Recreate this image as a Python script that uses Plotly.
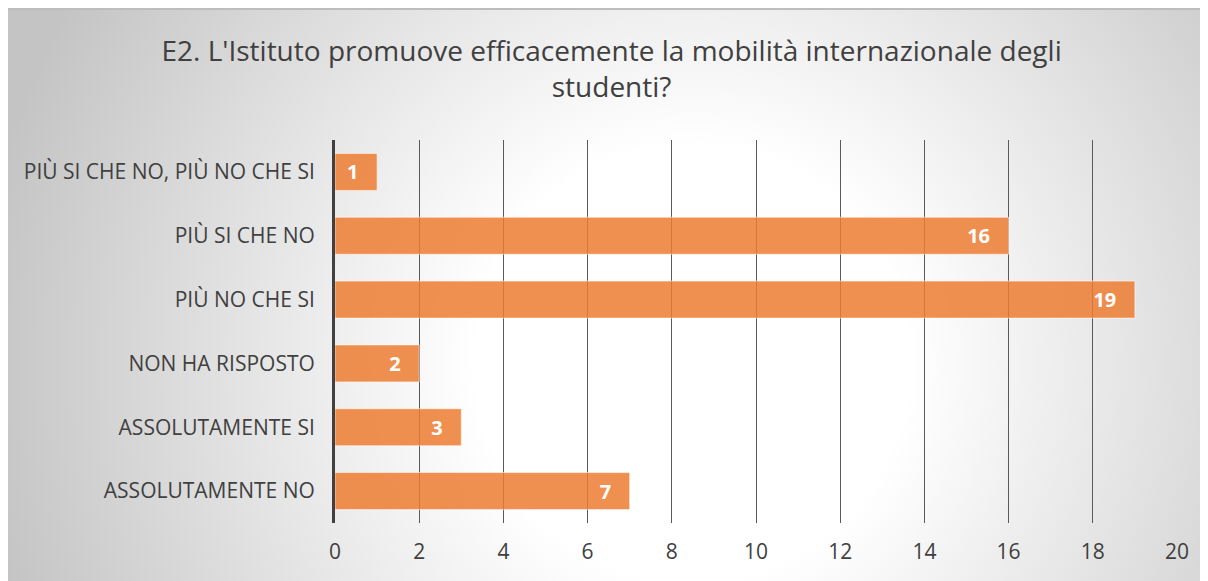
import base64
import plotly.graph_objects as go

# Survey answers, bottom to top as in the chart
categories = [
    "ASSOLUTAMENTE NO",
    "ASSOLUTAMENTE SI",
    "NON HA RISPOSTO",
    "PIÙ NO CHE SI",
    "PIÙ SI CHE NO",
    "PIÙ SI CHE NO, PIÙ NO CHE SI",
]
counts = [7, 3, 2, 19, 16, 1]
x_ticks = [0, 2, 4, 6, 8, 10, 12, 14, 16, 18, 20]

title = "E2. L'Istituto promuove efficacemente la mobilità internazionale degli<br>studenti?"

font = "Open Sans"
text_grey = "#404040"

# page body has an 8px margin, so the figure itself is 1200x573
FW, FH = 1200, 573

# radial grey-to-white background, drawn as an svg image behind the chart
bg_svg = f"""<svg xmlns='http://www.w3.org/2000/svg' width='{FW}' height='{FH}' preserveAspectRatio='none'>
<defs><radialGradient id='g' cx='0.57' cy='0.62' r='0.6' gradientTransform='translate(0.57 0.62) scale(1 2.1) translate(-0.57 -0.62)'>
<stop offset='0' stop-color='#ffffff'/><stop offset='0.3' stop-color='#ffffff'/><stop offset='1' stop-color='#c4c4c4'/>
</radialGradient></defs>
<rect width='{FW}' height='{FH}' fill='url(#g)'/>
<line x1='0' y1='1' x2='{FW}' y2='1' stroke='#bdbdbd' stroke-width='2'/>
</svg>"""
bg_src = "data:image/svg+xml;base64," + base64.b64encode(bg_svg.encode()).decode()

fig = go.Figure()
fig.add_trace(
    go.Bar(
        x=counts,
        y=categories,
        orientation="h",
        marker=dict(color="rgba(237,125,49,0.85)", line=dict(color="rgba(255,255,255,0.55)", width=1)),
        text=counts,
        texttemplate="%{x}\u00a0\u00a0\u00a0",
        textposition="inside",
        insidetextanchor="end",
        textfont=dict(family=font, size=20, color="white", weight="bold"),
        showlegend=False,
        hoverinfo="x+y",
    )
)

L, R, T, B = 327, 31, 132, 58
W, H = FW - L - R, FH - T - B

fig.update_layout(
    width=FW,
    height=FH,
    margin=dict(l=L, r=R, t=T, b=B),
    paper_bgcolor="white",
    plot_bgcolor="rgba(0,0,0,0)",
    bargap=0.42,
    uniformtext=dict(minsize=20, mode="show"),
    title=dict(
        text=title,
        x=0.503,
        xref="container",
        xanchor="center",
        y=1 - 53 / FH,
        yanchor="top",
        font=dict(family=font, size=28, color=text_grey),
    ),
    xaxis=dict(
        range=[0, 20],
        tickvals=x_ticks,
        showgrid=True,
        gridcolor="#5a5a5a",
        gridwidth=1.3,
        zeroline=False,
        showline=False,
        tickfont=dict(family=font, size=21, color=text_grey),
        ticklabelstandoff=14,
        fixedrange=True,
    ),
    yaxis=dict(
        categoryorder="array",
        categoryarray=categories,
        showline=True,
        linecolor="#404040",
        linewidth=3,
        showgrid=False,
        tickfont=dict(family=font, size=21, color=text_grey),
        ticklabelstandoff=13,
        fixedrange=True,
    ),
    images=[
        dict(
            source=bg_src,
            xref="paper",
            yref="paper",
            x=-L / W,
            y=(FH - B) / H,
            sizex=FW / W,
            sizey=FH / H,
            sizing="stretch",
            xanchor="left",
            yanchor="top",
            layer="below",
        )
    ],
)

fig.write_html("out.html")
